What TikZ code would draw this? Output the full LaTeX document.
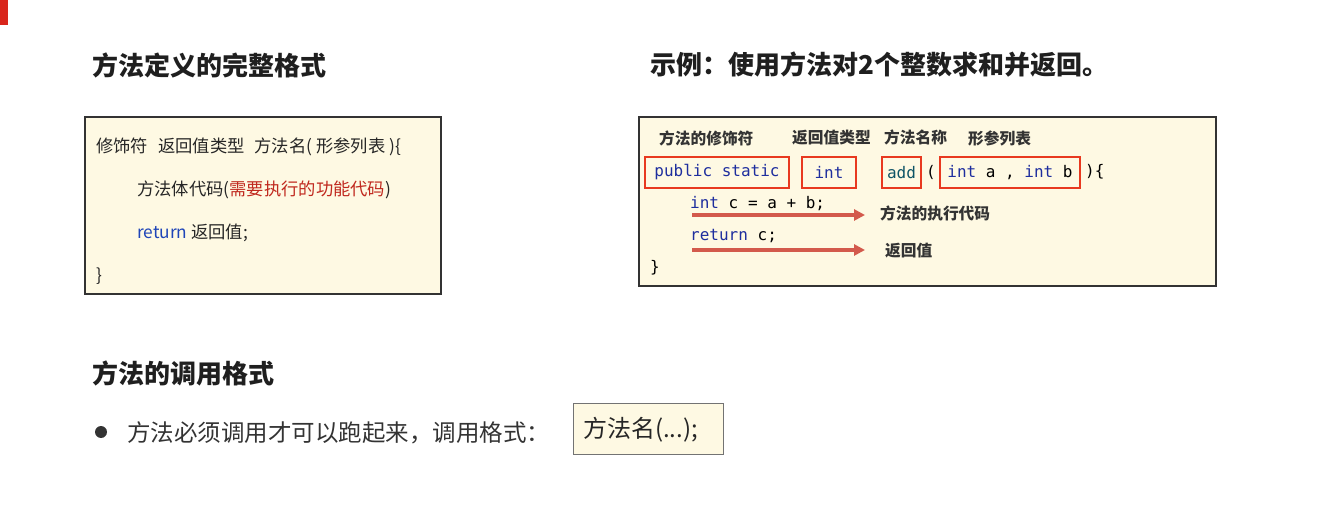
\documentclass[tikz,border=0pt]{standalone}
\usepackage{fontspec}
\setmainfont{Noto Sans CJK SC}
\newfontfamily\codefont{DejaVu Sans Mono}
\usetikzlibrary{arrows.meta}
\definecolor{tagred}{HTML}{D9261C}
\definecolor{boxfill}{HTML}{FEF9E3}
\definecolor{boxred}{HTML}{E8391F}
\definecolor{arrowred}{HTML}{D35A4C}
\definecolor{kwblue}{HTML}{1E2E9E}
\definecolor{retblue}{HTML}{1F45B8}
\definecolor{addteal}{HTML}{0E5466}
\definecolor{notered}{HTML}{C0281E}
\definecolor{txtgray}{HTML}{333333}
\begin{document}
\begin{tikzpicture}[x=1pt,y=-1pt,
  title/.style={font=\bfseries\fontsize{26}{31}\selectfont, inner sep=0, anchor=west, text=black!88},
  lt/.style={font=\fontsize{17.3}{20}\selectfont, inner sep=0, anchor=west, text=black!85},
  lbl/.style={font=\bfseries\fontsize{15.7}{19}\selectfont, inner sep=0, anchor=west, text=black!80},
  code/.style={font=\codefont\fontsize{16}{19}\selectfont, inner sep=0, anchor=west},
  rbox/.style={draw=boxred, line width=2.6pt, minimum height=31, inner sep=0, font=\codefont\fontsize{16}{19}\selectfont},
  ybox/.style={draw=black!80, fill=boxfill, line width=1.6pt, inner sep=0, anchor=north west},
  arr/.style={draw=arrowred, line width=3.5pt, -{Triangle[length=11pt,width=11pt]}}]
\useasboundingbox (0,0) rectangle (1336,510);
\fill[tagred] (0,0) rectangle (8,25);

% titles
\node[title] (t1) at (92,65) {方法定义的完整格式};
\node[title] (t2) at (650,65) {示例：使用方法对2个整数求和并返回。};
\node[title] (t3) at (92,373) {方法的调用格式};

% left box
\node[ybox, minimum width=356, minimum height=177] (lb) at (84,116) {};
\node[lt] (l1) at (96,147) {修饰符\hspace{10pt}返回值类型\hspace{10pt}方法名( 形参列表 )\{};
\node[lt] (l2) at (137,190) {方法体代码(\textcolor{notered}{需要执行的功能代码})};
\node[lt] (l3) at (137,233) {\textcolor{retblue}{return} 返回值;};
\node[lt] (l4) at (96,276) {\}};

% right box
\node[ybox, minimum width=577, minimum height=169] (rb) at (638,116) {};
\node[lbl] (m1) at (659,138) {方法的修饰符};
\node[lbl] (m2) at (792,138) {返回值类型};
\node[lbl] (m3) at (884,137) {方法名称};
\node[lbl] (m4) at (968,138) {形参列表};

\node[rbox, minimum width=144, text=kwblue] (b1) at (717,172.5) {public static};
\node[rbox, minimum width=54, text=kwblue] (b2) at (829,172.5) {int};
\node[rbox, minimum width=39, text=addteal] (b3) at (901.5,172.5) {add};
\node[code] (p1) at (926,172) {(};
\node[rbox, minimum width=140] (b4) at (1010,172.5) {\textcolor{kwblue}{int} a , \textcolor{kwblue}{int} b};
\node[code] (p2) at (1085,172) {)\{};

\node[code] (c1) at (690,204) {\textcolor{kwblue}{int} c = a + b;};
\node[code] (c2) at (690,236) {\textcolor{kwblue}{return} c;};
\node[code] (c3) at (650,268) {\}};

\node[lbl] (e1) at (880,213) {方法的执行代码};
\node[lbl] (e2) at (885,251) {返回值};
\coordinate (a1) at (692,215);
\coordinate (a2) at (692,250);
\draw[arr] (a1) -- ([xshift=-15pt]a1 -| e1.west);
\draw[arr] (a2) -- ([xshift=-20pt]a2 -| e2.west);

% call format
\fill[txtgray] (101,432) circle (6);
\node[lt, font=\fontsize{23.5}{28}\selectfont, text=txtgray] (s1) at (127,433) {方法必须调用才可以跑起来，调用格式：};
\node[ybox, draw=black!55, line width=1pt, minimum width=150, minimum height=51] (cb) at (573,403) {};
\node[lt, font=\fontsize{24}{28}\selectfont] (s2) at (583,430) {方法名(...);};
\end{tikzpicture}
\end{document}
